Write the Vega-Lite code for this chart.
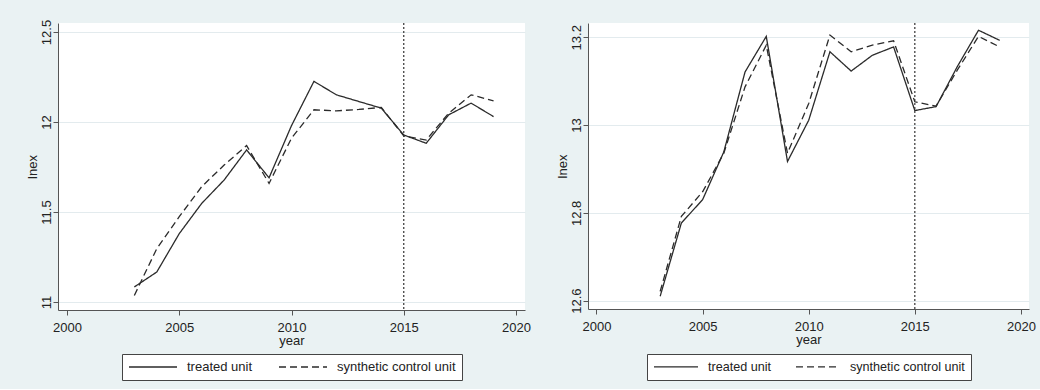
{
  "$schema": "https://vega.github.io/schema/vega-lite/v6.json",
  "background": "#EAF2F3",
  "padding": {"left": 26, "top": 19, "right": 8, "bottom": 8},
  "datasets": {
    "synth": [
      {"panel": "A", "year": 2003, "series": "treated unit", "value": 11.084},
      {"panel": "A", "year": 2004, "series": "treated unit", "value": 11.167},
      {"panel": "A", "year": 2005, "series": "treated unit", "value": 11.38},
      {"panel": "A", "year": 2006, "series": "treated unit", "value": 11.548},
      {"panel": "A", "year": 2007, "series": "treated unit", "value": 11.678},
      {"panel": "A", "year": 2008, "series": "treated unit", "value": 11.845},
      {"panel": "A", "year": 2009, "series": "treated unit", "value": 11.69},
      {"panel": "A", "year": 2010, "series": "treated unit", "value": 11.98},
      {"panel": "A", "year": 2011, "series": "treated unit", "value": 12.226},
      {"panel": "A", "year": 2012, "series": "treated unit", "value": 12.151},
      {"panel": "A", "year": 2013, "series": "treated unit", "value": 12.114},
      {"panel": "A", "year": 2014, "series": "treated unit", "value": 12.077},
      {"panel": "A", "year": 2015, "series": "treated unit", "value": 11.928},
      {"panel": "A", "year": 2016, "series": "treated unit", "value": 11.882},
      {"panel": "A", "year": 2017, "series": "treated unit", "value": 12.04},
      {"panel": "A", "year": 2018, "series": "treated unit", "value": 12.105},
      {"panel": "A", "year": 2019, "series": "treated unit", "value": 12.03},
      {"panel": "A", "year": 2003, "series": "synthetic control unit", "value": 11.037},
      {"panel": "A", "year": 2004, "series": "synthetic control unit", "value": 11.297},
      {"panel": "A", "year": 2005, "series": "synthetic control unit", "value": 11.474},
      {"panel": "A", "year": 2006, "series": "synthetic control unit", "value": 11.641},
      {"panel": "A", "year": 2007, "series": "synthetic control unit", "value": 11.761},
      {"panel": "A", "year": 2008, "series": "synthetic control unit", "value": 11.869},
      {"panel": "A", "year": 2009, "series": "synthetic control unit", "value": 11.659},
      {"panel": "A", "year": 2010, "series": "synthetic control unit", "value": 11.91},
      {"panel": "A", "year": 2011, "series": "synthetic control unit", "value": 12.068},
      {"panel": "A", "year": 2012, "series": "synthetic control unit", "value": 12.062},
      {"panel": "A", "year": 2013, "series": "synthetic control unit", "value": 12.07},
      {"panel": "A", "year": 2014, "series": "synthetic control unit", "value": 12.081},
      {"panel": "A", "year": 2015, "series": "synthetic control unit", "value": 11.923},
      {"panel": "A", "year": 2016, "series": "synthetic control unit", "value": 11.9},
      {"panel": "A", "year": 2017, "series": "synthetic control unit", "value": 12.049},
      {"panel": "A", "year": 2018, "series": "synthetic control unit", "value": 12.151},
      {"panel": "A", "year": 2019, "series": "synthetic control unit", "value": 12.118},
      {"panel": "B", "year": 2003, "series": "treated unit", "value": 12.61},
      {"panel": "B", "year": 2004, "series": "treated unit", "value": 12.777},
      {"panel": "B", "year": 2005, "series": "treated unit", "value": 12.83},
      {"panel": "B", "year": 2006, "series": "treated unit", "value": 12.939},
      {"panel": "B", "year": 2007, "series": "treated unit", "value": 13.121},
      {"panel": "B", "year": 2008, "series": "treated unit", "value": 13.202},
      {"panel": "B", "year": 2009, "series": "treated unit", "value": 12.917},
      {"panel": "B", "year": 2010, "series": "treated unit", "value": 13.011},
      {"panel": "B", "year": 2011, "series": "treated unit", "value": 13.167},
      {"panel": "B", "year": 2012, "series": "treated unit", "value": 13.123},
      {"panel": "B", "year": 2013, "series": "treated unit", "value": 13.159},
      {"panel": "B", "year": 2014, "series": "treated unit", "value": 13.178},
      {"panel": "B", "year": 2015, "series": "treated unit", "value": 13.033},
      {"panel": "B", "year": 2016, "series": "treated unit", "value": 13.042},
      {"panel": "B", "year": 2017, "series": "treated unit", "value": 13.133},
      {"panel": "B", "year": 2018, "series": "treated unit", "value": 13.216},
      {"panel": "B", "year": 2019, "series": "treated unit", "value": 13.193},
      {"panel": "B", "year": 2003, "series": "synthetic control unit", "value": 12.621},
      {"panel": "B", "year": 2004, "series": "synthetic control unit", "value": 12.792},
      {"panel": "B", "year": 2005, "series": "synthetic control unit", "value": 12.848},
      {"panel": "B", "year": 2006, "series": "synthetic control unit", "value": 12.936},
      {"panel": "B", "year": 2007, "series": "synthetic control unit", "value": 13.087},
      {"panel": "B", "year": 2008, "series": "synthetic control unit", "value": 13.182},
      {"panel": "B", "year": 2009, "series": "synthetic control unit", "value": 12.936},
      {"panel": "B", "year": 2010, "series": "synthetic control unit", "value": 13.049},
      {"panel": "B", "year": 2011, "series": "synthetic control unit", "value": 13.205},
      {"panel": "B", "year": 2012, "series": "synthetic control unit", "value": 13.167},
      {"panel": "B", "year": 2013, "series": "synthetic control unit", "value": 13.182},
      {"panel": "B", "year": 2014, "series": "synthetic control unit", "value": 13.192},
      {"panel": "B", "year": 2015, "series": "synthetic control unit", "value": 13.053},
      {"panel": "B", "year": 2016, "series": "synthetic control unit", "value": 13.043},
      {"panel": "B", "year": 2017, "series": "synthetic control unit", "value": 13.125},
      {"panel": "B", "year": 2018, "series": "synthetic control unit", "value": 13.202},
      {"panel": "B", "year": 2019, "series": "synthetic control unit", "value": 13.178}
    ],
    "treatment": [{"year": 2015}]
  },
  "config": {
    "font": "Liberation Sans",
    "view": {"fill": "white", "stroke": null},
    "axis": {
      "domainColor": "#555555",
      "tickColor": "#555555",
      "labelColor": "#222222",
      "titleColor": "#222222",
      "labelFontSize": 13,
      "titleFontSize": 13,
      "titleFontWeight": "normal",
      "gridColor": "#E3EBEE",
      "gridWidth": 1.2,
      "tickSize": 5,
      "domainWidth": 1,
      "tickWidth": 1
    },
    "axisX": {"grid": false, "labelPadding": 6, "titlePadding": 0, "labelFlush": false},
    "axisY": {"grid": true, "labelAngle": -90, "labelAlign": "center", "labelBaseline": "alphabetic", "labelPadding": 3, "titlePadding": 1}
  },
  "spacing": 63,
  "bounds": "flush",
  "resolve": {"scale": {"x": "independent", "y": "independent", "strokeDash": "independent"}, "legend": {"strokeDash": "independent"}},
  "hconcat": [
    {
      "width": 467,
      "height": 287,
      "layer": [
        {
          "data": {"name": "synth"},
          "transform": [{"filter": "datum.panel == 'A'"}],
          "mark": {"type": "line", "color": "#2b2b2b", "strokeWidth": 1.3},
          "encoding": {
            "x": {"field": "year", "type": "quantitative", "title": "year", "scale": {"domain": [1999.6, 2020.4], "nice": false}, "axis": {"values": [2000, 2005, 2010, 2015, 2020], "format": "d"}},
            "y": {"field": "value", "type": "quantitative", "title": "lnex", "scale": {"domain": [10.956, 12.55], "nice": false, "zero": false}, "axis": {"values": [11, 11.5, 12, 12.5], "format": "~g"}},
            "strokeDash": {
              "field": "series", "type": "nominal",
              "scale": {"domain": ["treated unit", "synthetic control unit"], "range": [[1, 0], [7, 4]]},
              "legend": {
                "orient": "none", "legendX": 64, "legendY": 331, "direction": "horizontal", "title": null,
                "symbolType": "M-1,0H7", "symbolSize": 144, "symbolStrokeWidth": 1.3, "symbolStrokeColor": "#2b2b2b", "symbolFillColor": "transparent",
                "labelFontSize": 13, "labelColor": "#222222", "labelOffset": 45, "columnPadding": 23, "padding": 6,
                "fillColor": "white", "strokeColor": "#444444", "cornerRadius": 0
              }
            }
          }
        },
        {
          "data": {"name": "treatment"},
          "mark": {"type": "rule", "color": "#333333", "strokeWidth": 1.2, "strokeDash": [2, 2]},
          "encoding": {"x": {"field": "year", "type": "quantitative"}}
        }
      ]
    },
    {
      "width": 441,
      "height": 286,
      "layer": [
        {
          "data": {"name": "synth"},
          "transform": [{"filter": "datum.panel == 'B'"}],
          "mark": {"type": "line", "color": "#2b2b2b", "strokeWidth": 1.3},
          "encoding": {
            "x": {"field": "year", "type": "quantitative", "title": "year", "scale": {"domain": [1999.6, 2020.38], "nice": false}, "axis": {"values": [2000, 2005, 2010, 2015, 2020], "format": "d"}},
            "y": {"field": "value", "type": "quantitative", "title": "lnex", "scale": {"domain": [12.581, 13.2325], "nice": false, "zero": false}, "axis": {"values": [12.6, 12.8, 13, 13.2], "format": "~g"}},
            "strokeDash": {
              "field": "series", "type": "nominal",
              "scale": {"domain": ["treated unit", "synthetic control unit"], "range": [[1, 0], [7, 4]]},
              "legend": {
                "orient": "none", "legendX": 59, "legendY": 331, "direction": "horizontal", "title": null,
                "symbolType": "M-1,0H7", "symbolSize": 121, "symbolStrokeWidth": 1.3, "symbolStrokeColor": "#2b2b2b", "symbolFillColor": "transparent",
                "labelFontSize": 12.6, "labelColor": "#222222", "labelOffset": 42, "columnPadding": 21, "padding": 6,
                "fillColor": "white", "strokeColor": "#444444", "cornerRadius": 0
              }
            }
          }
        },
        {
          "data": {"name": "treatment"},
          "mark": {"type": "rule", "color": "#333333", "strokeWidth": 1.2, "strokeDash": [2, 2]},
          "encoding": {"x": {"field": "year", "type": "quantitative"}}
        }
      ]
    }
  ]
}
